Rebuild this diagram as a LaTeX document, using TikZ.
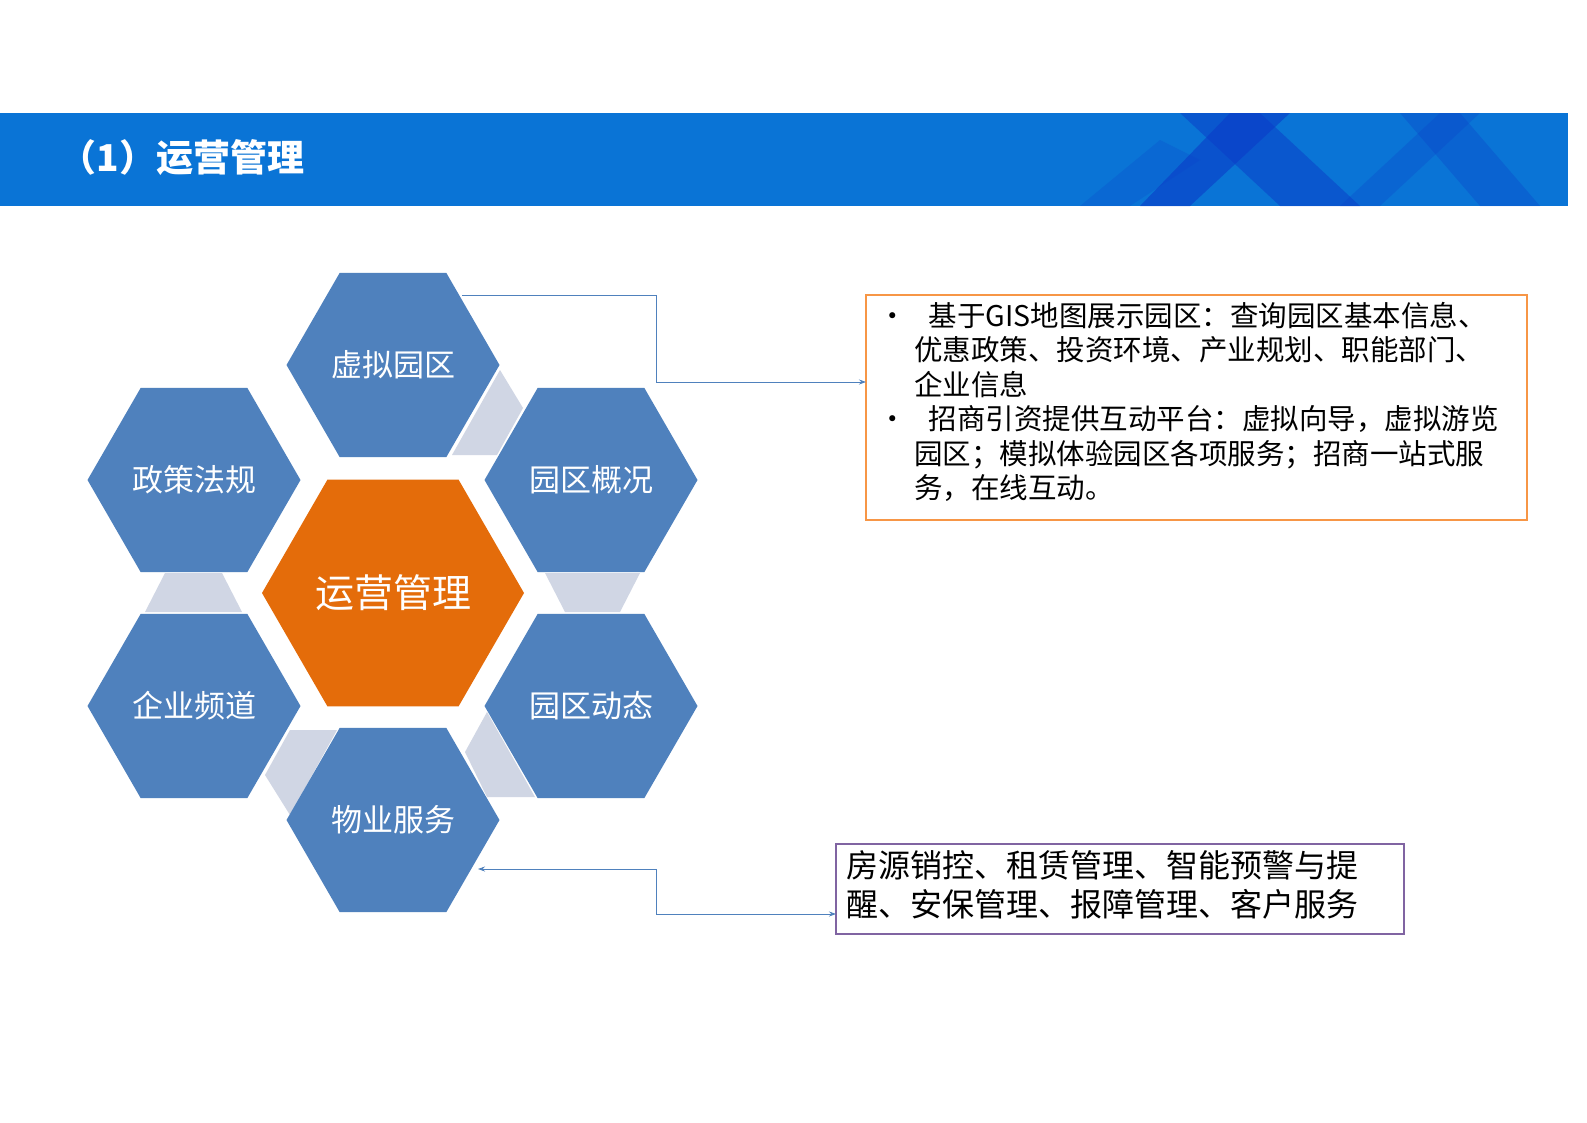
\documentclass[tikz,border=0pt]{standalone}
\usepackage{fontspec}
\setmainfont{Noto Sans CJK SC}
\usetikzlibrary{shapes.geometric,arrows.meta}
\definecolor{hexblue}{HTML}{4F81BD}
\definecolor{hexorange}{HTML}{E46C0A}
\definecolor{gapgray}{HTML}{D0D6E4}
\definecolor{barblue}{HTML}{0A74D6}
\definecolor{darkblue}{HTML}{0A3CC8}
\definecolor{boxorange}{HTML}{F79646}
\definecolor{boxpurple}{HTML}{8064A2}
\definecolor{linkblue}{HTML}{4F81BD}
\begin{document}
\begin{tikzpicture}[x=1pt,y=-1pt,
  hexa/.style={regular polygon,regular polygon sides=6,inner sep=0pt,minimum size=213pt,fill=hexblue,text=white,font=\fontsize{31}{32}\selectfont},
  gap/.style={fill=gapgray},
  link/.style={linkblue,line width=0.8pt},
  tip/.style={-{Stealth[length=7pt,width=5pt]}}]
\useasboundingbox (0,0) rectangle (1587,1122);
\fill[white] (0,0) rectangle (1587,1122);
% header
\fill[barblue] (0,113) rectangle (1568,206);
\begin{scope}
\clip (0,113) rectangle (1568,206);
\fill[darkblue,opacity=0.5] (1180,113) -- (1260,113) -- (1360,206) -- (1280,206) -- cycle;
\fill[darkblue,opacity=0.6] (1190,206) -- (1290,113) -- (1230,113) -- (1140,206) -- cycle;
\fill[darkblue,opacity=0.3] (1400,113) -- (1460,113) -- (1540,206) -- (1480,206) -- cycle;
\fill[darkblue,opacity=0.25] (1340,206) -- (1440,113) -- (1480,113) -- (1380,206) -- cycle;
\fill[darkblue,opacity=0.2] (1080,206) -- (1160,140) -- (1200,160) -- (1130,206) -- cycle;
\end{scope}
\node[anchor=west,text=white,font=\fontsize{37}{40}\selectfont\bfseries] (title) at (56,158) {（1）运营管理};
% gaps
\fill[gap] (500,370) -- (523,408) -- (497,455) -- (452,455) -- cycle;
\fill[gap] (165,573) -- (222,573) -- (242,612) -- (145,612) -- cycle;
\fill[gap] (545,573) -- (640,573) -- (620,612) -- (565,612) -- cycle;
\fill[gap] (290,730) -- (337,730) -- (290,815) -- (265,775) -- cycle;
\fill[gap] (487,712) -- (535,797) -- (487,797) -- (465,752) -- cycle;
% hexagons
\node[hexa] (xn) at (393,365) {虚拟园区};
\node[hexa] (zc) at (194,480) {政策法规};
\node[hexa] (gk) at (591,480) {园区概况};
\node[hexa] (qy) at (194,706) {企业频道};
\node[hexa] (dt) at (591,706) {园区动态};
\node[hexa] (wy) at (393,820) {物业服务};
\node[hexa,fill=hexorange,minimum size=262pt,font=\fontsize{39}{40}\selectfont] (yy) at (393,593) {运营管理};
% boxes
\draw[boxorange,line width=1.2pt] (866,295) rectangle (1527,520);
\node[anchor=north west,inner sep=0pt,align=left,font=\fontsize{28.5}{34.5}\selectfont] (t1) at (878,302) {%
•\hspace{22pt}基于GIS地图展示园区：查询园区基本信息、\\
\hspace{36pt}优惠政策、投资环境、产业规划、职能部门、\\
\hspace{36pt}企业信息\\
•\hspace{22pt}招商引资提供互动平台：虚拟向导，虚拟游览\\
\hspace{36pt}园区；模拟体验园区各项服务；招商一站式服\\
\hspace{36pt}务，在线互动。};
\coordinate (b1) at (866,382);
\draw[boxpurple,line width=1.2pt] (836,844) rectangle (1404,934);
\node[anchor=north west,inner sep=0pt,align=left,font=\fontsize{32}{39}\selectfont] (t2) at (846,850) {房源销控、租赁管理、智能预警与提\\醒、安保管理、报障管理、客户服务};
\coordinate (b2) at (836,914);
% connectors
\coordinate (s1) at (462,295);
\draw[link,tip] (s1) -- (656,295) -- (656,382) -- (b1);
\coordinate (s2) at (478,869);
\draw[link,tip] (656,914) -- (b2);
\draw[link,tip] (656,914) -- (656,869) -- (s2);
\end{tikzpicture}
\end{document}
